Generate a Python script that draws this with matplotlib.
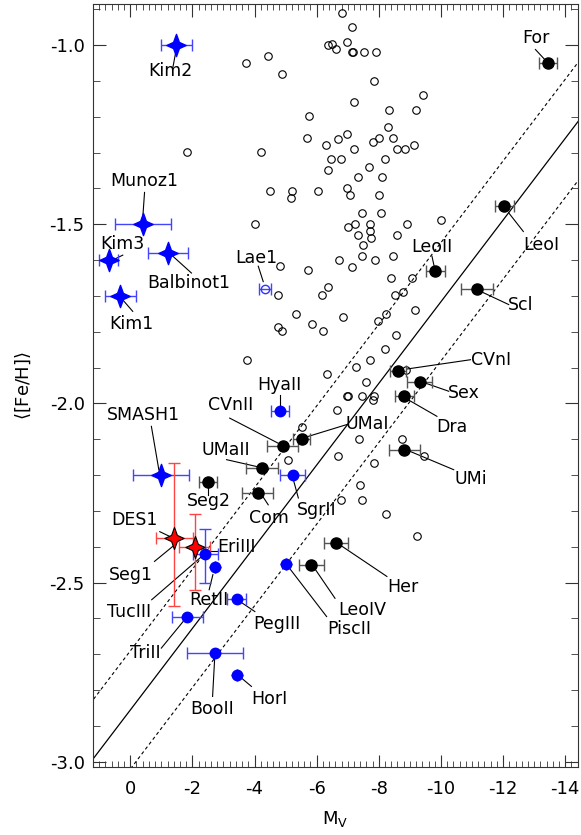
import numpy as np
import matplotlib.pyplot as plt
from matplotlib.path import Path
from matplotlib.ticker import MultipleLocator

# globular clusters (open circles)
gc_mv = np.array([-6.81, -7.15, -6.35, -6.48, -6.62, -6.97, -7.15, -7.18, -7.53, -7.91,
                  -3.72, -4.42, -4.87, -7.85, -9.42, -7.21, -8.34, -9.20, -5.75, -5.68,
                  -6.30, -6.68, -6.99, -7.20, -7.81, -7.99, -8.28, -8.45, -8.60, -8.85,
                  -9.12, -6.46, -6.77, -8.20, -6.37, -7.69, -7.34, -8.10, -5.19, -5.16,
                  -6.03, -6.97, -7.07, -7.99, -7.47, -8.07, -7.24, -7.72, -7.00, -7.34,
                  -7.70, -7.75, -8.58, -8.90, -9.99, -7.50, -6.72, -7.47, -7.89, -8.47,
                  -7.13, -5.71, -8.39, -9.08, -6.37, -1.83, -4.20, -4.49, -4.03, -4.82,
                  -4.74, -6.18, -8.53, -8.77, -9.15, -5.32, -6.86, -5.84, -6.19, -4.76,
                  -4.89, -8.24, -7.97, -8.54, -8.19, -3.77, -7.72, -7.26, -6.32, -7.59,
                  -6.97, -7.02, -7.45, -7.85, -7.81, -6.66, -8.88, -5.52, -7.37, -8.74,
                  -5.08, -6.70, -7.83, -9.44, -7.40, -6.77, -7.47, -8.24, -9.23])
gc_feh = np.array([-0.909, -0.950, -1.000, -0.998, -1.010, -0.990, -1.020, -1.020, -1.020, -1.020,
                   -1.049, -1.029, -1.079, -1.099, -1.140, -1.159, -1.180, -1.180, -1.198, -1.259,
                   -1.279, -1.261, -1.249, -1.289, -1.270, -1.260, -1.229, -1.260, -1.289, -1.289,
                   -1.279, -1.319, -1.319, -1.319, -1.349, -1.340, -1.369, -1.369, -1.408, -1.426,
                   -1.408, -1.398, -1.419, -1.419, -1.468, -1.468, -1.499, -1.499, -1.508, -1.529,
                   -1.520, -1.538, -1.529, -1.499, -1.489, -1.559, -1.599, -1.589, -1.599, -1.588,
                   -1.619, -1.628, -1.650, -1.650, -1.675, -1.299, -1.299, -1.408, -1.498, -1.617,
                   -1.698, -1.698, -1.698, -1.690, -1.738, -1.749, -1.759, -1.778, -1.799, -1.788,
                   -1.799, -1.749, -1.769, -1.808, -1.848, -1.878, -1.878, -1.898, -1.919, -1.939,
                   -1.978, -1.978, -1.978, -1.978, -1.990, -2.018, -1.906, -2.067, -2.099, -2.099,
                   -2.157, -2.148, -2.166, -2.148, -2.228, -2.269, -2.269, -2.308, -2.369])

# known dwarf galaxies (black)
dw_name = ['For', 'LeoI', 'LeoII', 'Scl', 'CVnI', 'Sex', 'Dra', 'UMi', 'UMaI',
           'CVnII', 'UMaII', 'Com', 'Seg2', 'Her', 'LeoIV']
dw_mv = np.array([-13.44, -12.04, -9.82, -11.16, -8.62, -9.32, -8.82, -8.82, -5.52,
                  -4.91, -4.23, -4.10, -2.50, -6.62, -5.82])
dw_feh = np.array([-1.05, -1.45, -1.63, -1.68, -1.91, -1.94, -1.98, -2.13, -2.10,
                   -2.12, -2.18, -2.25, -2.22, -2.39, -2.45])
dw_mverr = np.array([0.3, 0.3, 0.3, 0.5, 0.25, 0.4, 0.3, 0.5, 0.28,
                     0.5, 0.52, 0.5, 0.3, 0.4, 0.4])

# new ultra-faint dwarfs (blue circles)
uf_name = ['HyaII', 'SgrII', 'TucIII', 'RetII', 'PegIII', 'PiscII', 'TriII', 'BooII', 'HorI']
uf_mv = np.array([-4.82, -5.23, -2.42, -2.72, -3.42, -5.01, -1.83, -2.72, -3.42])
uf_feh = np.array([-2.02, -2.20, -2.42, -2.458, -2.546, -2.448, -2.597, -2.697, -2.758])
uf_mverr = np.array([0.3, 0.4, 0.4, 0.0, 0.3, 0.0, 0.5, 0.9, 0.0])
uf_feherr_lo = np.array([0.0, 0.0, 0.08, 0.0, 0.0, 0.0, 0.0, 0.0, 0.0])
uf_feherr_hi = np.array([0.0, 0.0, 0.07, 0.0, 0.0, 0.0, 0.0, 0.0, 0.0])

# star clusters (blue stars)
sc_name = ['Kim2', 'Munoz1', 'Kim3', 'Balbinot1', 'Kim1', 'SMASH1']
sc_mv = np.array([-1.48, -0.41, 0.69, -1.21, 0.32, -1.00])
sc_feh = np.array([-1.00, -1.50, -1.60, -1.58, -1.70, -2.20])
sc_mverr = np.array([0.5, 0.9, 0.3, 0.65, 0.5, 0.9])

# this work (red stars)
new_name = ['DES1', 'EriIII']
new_mv = np.array([-1.42, -2.07])
new_feh = np.array([-2.376, -2.40])
new_mverr = np.array([0.6, 0.5])
new_feherr_lo = np.array([0.19, 0.12])
new_feherr_hi = np.array([0.21, 0.09])

# Lae1 (open blue)
lae_mv = np.array([-4.33])
lae_feh = np.array([-1.68])
lae_mverr = np.array([0.2])

# luminosity-metallicity relation
rel_slope = -0.114
rel_icpt = -2.856
rel_rms = 0.165
line_mv = np.array([1.3, -14.5])

# label layout: text x, text y, leader start, leader end (data units)
labels = {
    'Kim2': (-1.28, -1.073, -1.37, -1.063, -1.48, -1.012),
    'Munoz1': (-0.46, -1.378, -0.46, -1.411, -0.41, -1.473),
    'Kim3': (0.25, -1.554, 0.24, -1.586, 0.57, -1.600),
    'Balbinot1': (-1.88, -1.663, -1.37, -1.589, -1.97, -1.636),
    'Kim1': (-0.04, -1.779, 0.29, -1.706, -0.08, -1.743),
    'Lae1': (-4.07, -1.593, -4.12, -1.617, -4.28, -1.660),
    'For': (-13.05, -0.980, -13.04, -1.012, -13.34, -1.040),
    'LeoI': (-13.24, -1.557, -12.18, -1.468, -12.65, -1.520),
    'LeoII': (-9.72, -1.564, -9.71, -1.589, -9.78, -1.617),
    'Scl': (-12.56, -1.724, -11.27, -1.687, -12.18, -1.724),
    'CVnI': (-11.62, -1.878, -8.90, -1.904, -10.95, -1.878),
    'Sex': (-10.75, -1.972, -9.49, -1.943, -10.25, -1.966),
    'Dra': (-10.36, -2.066, -8.95, -1.990, -9.87, -2.036),
    'UMi': (-10.95, -2.212, -9.01, -2.134, -10.41, -2.185),
    'UMaI': (-7.62, -2.058, -5.73, -2.092, -6.97, -2.059),
    'CVnII': (-3.24, -2.005, -3.20, -2.041, -4.76, -2.111),
    'HyaII': (-4.79, -1.948, -4.82, -1.976, -4.82, -2.004),
    'UMaII': (-3.09, -2.129, -3.10, -2.157, -4.06, -2.176),
    'SMASH1': (-0.43, -2.032, -0.68, -2.064, -0.92, -2.185),
    'Seg2': (-2.54, -2.272, -2.50, -2.232, -2.50, -2.255),
    'Com': (-4.46, -2.321, -4.23, -2.255, -4.44, -2.283),
    'SgrII': (-6.01, -2.298, -5.25, -2.213, -5.41, -2.264),
    'DES1': (-0.15, -2.326, -0.95, -2.358, -1.36, -2.375),
    'EriIII': (-3.41, -2.402, -2.40, -2.412, -2.78, -2.412),
    'Seg1': (-0.01, -2.480, -0.78, -2.441, -1.37, -2.399),
    'TucIII': (0.04, -2.583, -0.69, -2.548, -2.33, -2.425),
    'RetII': (-2.54, -2.550, -2.54, -2.520, -2.66, -2.478),
    'PegIII': (-4.72, -2.617, -3.53, -2.553, -4.01, -2.581),
    'PiscII': (-7.06, -2.631, -5.08, -2.455, -6.32, -2.595),
    'LeoIV': (-7.46, -2.578, -5.89, -2.455, -6.59, -2.544),
    'Her': (-8.77, -2.513, -6.75, -2.395, -8.26, -2.483),
    'TriII': (-0.49, -2.698, -1.00, -2.683, -1.70, -2.609),
    'BooII': (-2.64, -2.854, -2.72, -2.707, -2.65, -2.818),
    'HorI': (-4.48, -2.826, -3.53, -2.763, -3.90, -2.790),
}

# four-pointed star marker with concave sides
star = Path([(0, 1.15), (0.3, 0.32), (1, 0), (0.3, -0.32), (0, -1.15),
             (-0.3, -0.32), (-1, 0), (-0.3, 0.32), (0, 1.15)], closed=True)

fig = plt.figure(figsize=(5.81, 8.35), dpi=100)
ax = fig.add_axes([0.160, 0.0814, 0.8343, 0.9138])

ax.plot(gc_mv, gc_feh, 'o', mfc='none', mec='black', ms=5.4, mew=0.8, zorder=2)

ax.plot(line_mv, rel_icpt + rel_slope * line_mv, '-', color='black', lw=0.9, zorder=1)
ax.plot(line_mv, rel_icpt + rel_rms + rel_slope * line_mv, '--', color='black', lw=0.8,
        dashes=(3, 2.5), zorder=1)
ax.plot(line_mv, rel_icpt - rel_rms + rel_slope * line_mv, '--', color='black', lw=0.8,
        dashes=(3, 2.5), zorder=1)

ax.errorbar(dw_mv, dw_feh, xerr=dw_mverr, fmt='o', color='black', ms=8,
            ecolor='#555555', elinewidth=1, capsize=4, capthick=1, zorder=4)
ax.errorbar(uf_mv, uf_feh, xerr=uf_mverr, yerr=[uf_feherr_lo, uf_feherr_hi], fmt='o',
            color='#0000ff', ms=7.5, ecolor='#4444ff', elinewidth=1, capsize=4,
            capthick=1, zorder=4)
ax.errorbar(lae_mv, lae_feh, xerr=lae_mverr, fmt='o', mfc='none', mec='#3333ff', ms=6,
            ecolor='#4444ff', elinewidth=1, capsize=4, capthick=1, zorder=4)
ax.errorbar(sc_mv, sc_feh, xerr=sc_mverr, fmt='none', ecolor='#4444ff', elinewidth=1,
            capsize=4, capthick=1, zorder=4)
ax.plot(sc_mv, sc_feh, linestyle='none', marker=star, ms=16, color='#0000ff', zorder=5)
ax.errorbar(new_mv, new_feh, xerr=new_mverr, yerr=[new_feherr_lo, new_feherr_hi],
            fmt='none', ecolor='#ff4444', elinewidth=1, capsize=4, capthick=1, zorder=4)
ax.plot(new_mv, new_feh, linestyle='none', marker=star, ms=16, mfc='#ff0000',
        mec='black', mew=0.8, zorder=5)

for name, (tx, ty, x0, y0, x1, y1) in labels.items():
    ax.text(tx, ty, name, ha='center', va='center', fontsize=12.5, zorder=6)
    ax.plot([x0, x1], [y0, y1], '-', color='black', lw=0.8, zorder=3)

ax.set_xlim(1.2, -14.4)
ax.set_ylim(-3.015, -0.885)
ax.xaxis.set_major_locator(MultipleLocator(2))
ax.xaxis.set_minor_locator(MultipleLocator(0.2))
ax.yaxis.set_major_locator(MultipleLocator(0.5))
ax.yaxis.set_minor_locator(MultipleLocator(0.1))
ax.yaxis.set_major_formatter(plt.FormatStrFormatter('%.1f'))
ax.xaxis.set_major_formatter(plt.FormatStrFormatter('%d'))
ax.tick_params(which='both', direction='in', top=True, right=True, color='#333333',
               labelsize=13)
ax.tick_params(axis='y', which='major', length=9.5, pad=6)
ax.tick_params(axis='y', which='minor', length=5)
ax.tick_params(axis='x', which='major', length=9, pad=9)
ax.tick_params(axis='x', which='minor', length=4.5)
for sp in ax.spines.values():
    sp.set_color('#333333')

ax.set_xlabel(r'M$_\mathrm{V}$', fontsize=13, labelpad=8)
ax.set_ylabel(r'$\langle$[Fe/H]$\rangle$', fontsize=13, labelpad=12)

fig.savefig('out.png', dpi=100)
